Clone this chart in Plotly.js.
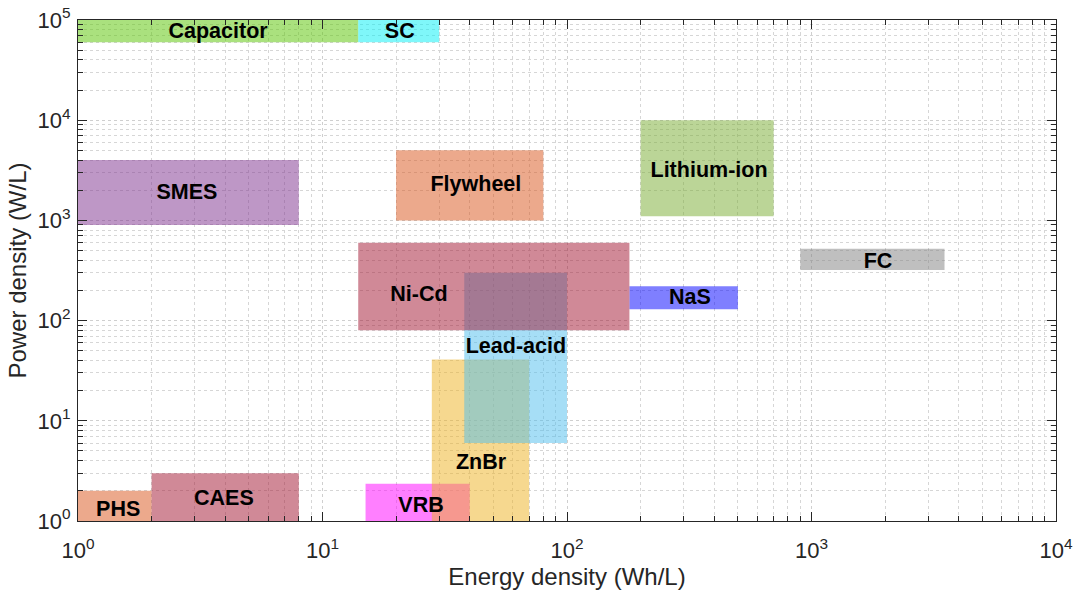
<!DOCTYPE html>
<html>
<head>
<meta charset="utf-8">
<script src="https://cdn.plot.ly/plotly-3.0.1.min.js"></script>
<style>
html,body{margin:0;padding:0;background:#fff;}
#chart{width:1077px;height:594px;}
</style>
</head>
<body>
<div id="chart"></div>
<script>
// Technologies (drawing order matters for overlaps)
const techs      = ["Capacitor","SC","SMES","Flywheel","Lithium-ion","FC","NaS","VRB","ZnBr","Lead-acid","Ni-Cd","PHS","CAES"];
// Energy density range (Wh/L)
const energyMin  = [1,   14,  1,   20,  200, 900, 180, 15, 28, 38, 14,  1, 2];
const energyMax  = [14,  30,  8,   80,  700, 3500,500, 40, 70, 100,180, 2, 8];
// Power density range (W/L)
const powerMin   = [60000,60000,900, 1000,1100,320, 130, 1, 1,  6,  80, 1, 1];
const powerMax   = [100000,100000,4000,5000,10000,520,220,2.35,41,300,600,2,3];
// Label anchor positions (data values)
const labelE     = [3.74, 20.7, 2.79, 42.4, 381, 1870, 318, 25.3, 44.5, 61.8, 24.8, 1.46, 3.95];
const labelP     = [74000,74000,1840,2210,3050,376, 165, 1.39, 3.72, 53.5, 176, 1.27, 1.63];
const fillColors = [
  "rgba(100,200,20,0.55)",   // Capacitor
  "rgba(0,240,245,0.5)",     // SC
  "rgba(126,47,142,0.5)",    // SMES
  "rgba(217,83,25,0.5)",     // Flywheel
  "rgba(119,172,48,0.5)",    // Lithium-ion
  "rgba(128,128,128,0.5)",   // FC
  "rgba(0,0,255,0.5)",       // NaS
  "rgba(255,0,255,0.5)",     // VRB
  "rgba(237,177,32,0.5)",    // ZnBr
  "rgba(77,190,238,0.5)",    // Lead-acid
  "rgba(162,20,47,0.5)",     // Ni-Cd
  "rgba(217,83,25,0.5)",     // PHS
  "rgba(162,20,47,0.5)"      // CAES
];
const xTickVals = [1,10,100,1000,10000];
const xTickText = ["10<sup>0</sup>","10<sup>1</sup>","10<sup>2</sup>","10<sup>3</sup>","10<sup>4</sup>"];
const yTickVals = [1,10,100,1000,10000,100000];
const yTickText = ["10<sup>0</sup>","10<sup>1</sup>","10<sup>2</sup>","10<sup>3</sup>","10<sup>4</sup>","10<sup>5</sup>"];

function minorVals(decades){
  const out=[];
  for(let d=0; d<decades; d++){ for(let k=2;k<=9;k++){ out.push(k*Math.pow(10,d)); } }
  return out;
}

const FONT = "Liberation Sans, Arial, sans-serif";

const traces = techs.map((t,i)=>({
  type:"scatter", mode:"lines", name:t,
  x:[energyMin[i],energyMax[i],energyMax[i],energyMin[i],energyMin[i]],
  y:[powerMin[i],powerMin[i],powerMax[i],powerMax[i],powerMin[i]],
  fill:"toself", fillcolor:fillColors[i],
  line:{width:0,color:"rgba(0,0,0,0)"},
  hoverinfo:"name", showlegend:false
}));
traces.push({
  type:"scatter", mode:"text",
  x:labelE, y:labelP, text:techs,
  textfont:{family:FONT, size:21.5, color:"#000"},
  texttemplate:"<b>%{text}</b>",
  hoverinfo:"skip", showlegend:false, cliponaxis:false
});

const axisCommon = {
  type:"log",
  showline:true, linecolor:"#262626", linewidth:1,
  mirror:"allticks",
  ticks:"inside", ticklen:9, tickwidth:1, tickcolor:"#262626",
  tickmode:"array",
  showgrid:true, gridcolor:"#cfcfcf", griddash:"dot", gridwidth:1,
  zeroline:false,
  tickfont:{family:FONT, size:22, color:"#262626"},
};

const layout = {
  width:1077, height:594,
  margin:{l:78, r:21, t:20, b:73},
  paper_bgcolor:"#fff", plot_bgcolor:"#fff",
  showlegend:false,
  xaxis:Object.assign({}, axisCommon, {
    range:[0,4],
    tickvals:xTickVals, ticktext:xTickText,
    ticklabelstandoff:10,
    minor:{tickmode:"array", tickvals:minorVals(4), ticks:"inside", ticklen:5, tickcolor:"#262626",
           showgrid:true, gridcolor:"#d6d6d6", griddash:"dot", gridwidth:1},
    title:{text:"Energy density (Wh/L)", font:{family:FONT, size:24, color:"#262626"}, standoff:4}
  }),
  yaxis:Object.assign({}, axisCommon, {
    range:[0,5],
    tickvals:yTickVals, ticktext:yTickText,
    ticklabelstandoff:2,
    minor:{tickmode:"array", tickvals:minorVals(5), ticks:"inside", ticklen:5, tickcolor:"#262626",
           showgrid:true, gridcolor:"#d6d6d6", griddash:"dot", gridwidth:1},
    title:{text:"Power density (W/L)", font:{family:FONT, size:24, color:"#262626"}, standoff:4}
  })
};

Plotly.newPlot("chart", traces, layout, {displayModeBar:false, staticPlot:true});
</script>
</body>
</html>
